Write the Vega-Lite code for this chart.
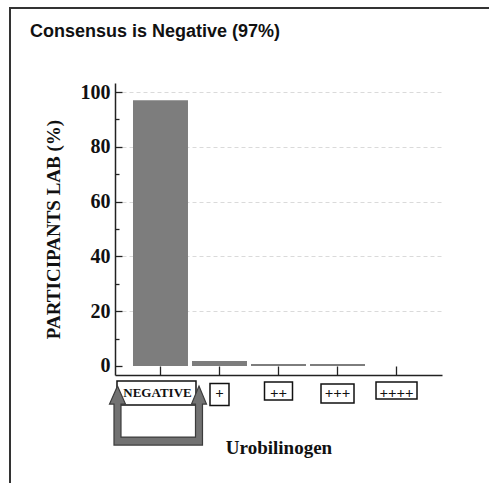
{
  "$schema": "https://vega.github.io/schema/vega-lite/v6.json",
  "width": 485,
  "height": 485,
  "autosize": {"type": "none"},
  "padding": {"left": 10, "top": 8, "right": 0, "bottom": 0},
  "background": "white",
  "title": {
    "text": "Consensus is Negative (97%)",
    "anchor": "start",
    "frame": "group",
    "font": "Liberation Sans",
    "fontSize": 18,
    "fontWeight": "bold",
    "color": "#111111",
    "baseline": "alphabetic",
    "offset": 0,
    "dx": 20,
    "dy": 47
  },
  "data": {
    "values": [
      {"level": "NEGATIVE", "pct": 97},
      {"level": "+", "pct": 1.8},
      {"level": "++", "pct": 0.7},
      {"level": "+++", "pct": 0.7},
      {"level": "++++", "pct": 0}
    ]
  },
  "layer": [
    {
      "mark": {"type": "bar", "fill": "#7d7d7d", "strokeWidth": 0},
      "encoding": {
        "x": {
          "field": "level",
          "type": "nominal",
          "sort": ["NEGATIVE", "+", "++", "+++", "++++"],
          "scale": {"range": [105, 432], "paddingInner": 0.068, "paddingOuter": 0.305},
          "axis": {
            "orient": "bottom",
            "offset": -118,
            "labels": false,
            "tickSize": -9,
            "tickColor": "#222222",
            "tickWidth": 1.3,
            "domainColor": "#222222",
            "domainWidth": 1.5,
            "grid": false,
            "title": "Urobilinogen",
            "titleFont": "Liberation Serif",
            "titleFontSize": 19,
            "titleFontWeight": "bold",
            "titleColor": "#111111",
            "titlePadding": 63
          }
        },
        "y": {
          "field": "pct",
          "type": "quantitative",
          "scale": {"domain": [-3.3, 103.3], "range": [367, 75], "nice": false, "zero": false},
          "axis": {
            "orient": "left",
            "offset": -105,
            "values": [0, 10, 20, 30, 40, 50, 60, 70, 80, 90, 100],
            "labelExpr": "datum.value % 20 === 0 ? datum.label : ''",
            "labelFont": "Liberation Serif",
            "labelFontSize": 20,
            "labelFontWeight": "bold",
            "labelColor": "#111111",
            "labelPadding": 12,
            "tickSize": {"condition": {"test": "datum.value % 20 === 0", "value": -7}, "value": -4},
            "tickColor": "#222222",
            "tickWidth": 1.3,
            "domainColor": "#222222",
            "domainWidth": 1.5,
            "grid": true,
            "gridColor": "#dadada",
            "gridDash": [4, 3],
            "gridOpacity": {"condition": {"test": "datum.value % 20 === 0 && datum.value > 0", "value": 1}, "value": 0},
            "title": "PARTICIPANTS LAB (%)",
            "titleFont": "Liberation Serif",
            "titleFontSize": 19,
            "titleFontWeight": "bold",
            "titleColor": "#111111",
            "titlePadding": 17
          }
        }
      }
    },
    {
      "mark": {"type": "point", "filled": false, "stroke": "#111111", "strokeWidth": 1.5, "opacity": 1, "size": 10000},
      "encoding": {
        "x": {"field": "level", "type": "nominal", "sort": ["NEGATIVE", "+", "++", "+++", "++++"]},
        "y": {"datum": -9.9},
        "shape": {
          "field": "level",
          "type": "nominal",
          "scale": {
            "domain": ["NEGATIVE", "+", "++", "+++", "++++"],
            "range": [
              "M-0.87,-0.24H0.71V0.24H-0.87Z",
              "M-0.19,-0.19H0.19V0.25H-0.19Z",
              "M-0.28,-0.22H0.28V0.14H-0.28Z",
              "M-0.33,-0.18H0.33V0.2H-0.33Z",
              "M-0.41,-0.22H0.41V0.12H-0.41Z"
            ]
          },
          "legend": null
        }
      }
    },
    {
      "transform": [{"filter": "datum.level === 'NEGATIVE'"}],
      "mark": {"type": "text", "font": "Liberation Serif", "fontWeight": "bold", "fontSize": 13, "color": "#111111", "baseline": "middle", "align": "center", "dx": -3},
      "encoding": {
        "x": {"field": "level", "type": "nominal", "sort": ["NEGATIVE", "+", "++", "+++", "++++"]},
        "y": {"datum": -9.9},
        "text": {"field": "level", "type": "nominal"}
      }
    },
    {
      "transform": [{"filter": "datum.level !== 'NEGATIVE'"}],
      "mark": {"type": "text", "font": "Liberation Serif", "fontWeight": "bold", "fontSize": 15, "color": "#111111", "baseline": "middle", "align": "center"},
      "encoding": {
        "x": {"field": "level", "type": "nominal", "sort": ["NEGATIVE", "+", "++", "+++", "++++"]},
        "y": {"datum": -9.9},
        "text": {"field": "level", "type": "nominal"}
      }
    },
    {
      "transform": [{"filter": "datum.level === 'NEGATIVE'"}],
      "mark": {
        "type": "point",
        "filled": true,
        "fill": "#727272",
        "stroke": "#3c3c3c",
        "strokeWidth": 1.2,
        "opacity": 1,
        "size": 10000,
        "shape": "M-0.86,-0.14L-0.7,0.22L-0.79,0.22L-0.79,0.88L0.7,0.88L0.7,0.22L0.62,0.22L0.77,-0.14L0.92,0.22L0.84,0.22L0.84,1.04L-0.93,1.04L-0.93,0.22L-1.02,0.22Z"
      },
      "encoding": {
        "x": {"field": "level", "type": "nominal", "sort": ["NEGATIVE", "+", "++", "+++", "++++"]},
        "y": {"datum": -9.9}
      }
    }
  ],
  "config": {
    "view": {"stroke": "#333333", "strokeWidth": 2}
  }
}
